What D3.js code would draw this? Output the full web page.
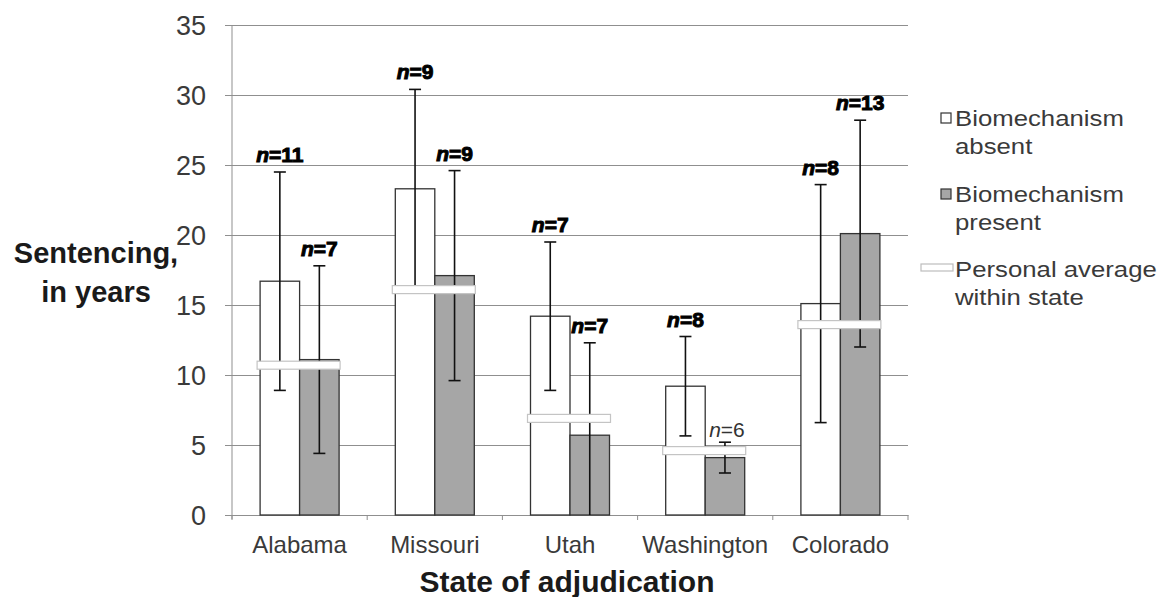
<!DOCTYPE html>
<html>
<head>
<meta charset="utf-8">
<script src="https://cdn.jsdelivr.net/npm/d3@7"></script>
<style>
  body { margin: 0; background: #fff; }
  svg { display: block; font-family: "Liberation Sans", Arial, sans-serif; }
</style>
</head>
<body>
<svg id="chart" width="1168" height="597"></svg>
<script>
// values
const states = ["Alabama", "Missouri", "Utah", "Washington", "Colorado"];
const absentMean = [16.7, 23.3, 14.2, 9.2, 15.1];
const absentErr = [7.8, 7.1, 5.3, 3.55, 8.5];
const presentMean = [11.1, 17.1, 5.7, 4.1, 20.1];
const presentErr = [6.7, 7.5, 6.6, 1.1, 8.1];
const personalAvg = [10.7, 16.1, 6.9, 4.6, 13.6];
const absentN = [11, 9, 7, 8, 8];
const presentN = [7, 9, 7, 6, 13];
const yTicks = [0, 5, 10, 15, 20, 25, 30, 35];
const legendLabels = [["Biomechanism", "absent"], ["Biomechanism", "present"], ["Personal average", "within state"]];

const margin = {top: 25, left: 232, right: 260, bottom: 82};
const width = 1168 - margin.left - margin.right;   // 676
const height = 597 - margin.top - margin.bottom;   // 490

const svg = d3.select("#chart");
const g = svg.append("g").attr("transform", `translate(${margin.left},${margin.top})`);

const x = d3.scaleBand().domain(states).range([0, width]).padding(0);
const y = d3.scaleLinear().domain([0, 35]).range([height, 0]);
const barW = 39.5;

// gridlines + y axis
g.append("g")
  .call(d3.axisLeft(y).tickValues(yTicks).tickSize(-width).tickFormat(""))
  .call(s => s.select(".domain").remove())
  .call(s => s.selectAll("line").attr("stroke", "#8f8f8f").attr("x1", -7).attr("x2", width));

g.append("line").attr("x1", 0).attr("x2", 0).attr("y1", 0).attr("y2", height + 4)
  .attr("stroke", "#8f8f8f");

g.append("g")
  .call(d3.axisLeft(y).tickValues(yTicks).tickSize(0).tickPadding(26))
  .call(s => s.select(".domain").remove())
  .call(s => s.selectAll("text").attr("font-size", 27).attr("fill", "#3a3a3a")
    .attr("font-family", "Liberation Sans, Arial, sans-serif").attr("dy", "0.36em"));

// x axis
const xAxis = g.append("g").attr("transform", `translate(0,${height})`)
  .call(d3.axisBottom(x).tickSize(0).tickPadding(21));
xAxis.select(".domain").attr("stroke", "#8f8f8f");
xAxis.selectAll("text").attr("font-size", 24).attr("fill", "#3a3a3a")
  .attr("font-family", "Liberation Sans, Arial, sans-serif");
g.append("g").selectAll("line")
  .data(d3.range(states.length + 1))
  .join("line")
  .attr("x1", i => i * x.step()).attr("x2", i => i * x.step())
  .attr("y1", height).attr("y2", height + 5)
  .attr("stroke", "#8f8f8f");

// bars
const rows = states.map((s, i) => ({
  state: s, i,
  groups: [
    {key: "absent", mean: absentMean[i], err: absentErr[i], n: absentN[i], off: -barW},
    {key: "present", mean: presentMean[i], err: presentErr[i], n: presentN[i], off: 0}
  ]
}));

const cx = s => x(s) + x.bandwidth() / 2;

rows.forEach(r => {
  r.groups.forEach(d => {
    g.append("rect")
      .attr("x", cx(r.state) + d.off).attr("width", barW)
      .attr("y", y(d.mean)).attr("height", height - y(d.mean))
      .attr("fill", d.key === "absent" ? "#ffffff" : "#a6a6a6")
      .attr("stroke", "#333").attr("stroke-width", 1.3);
  });
});

// error bars
rows.forEach(r => {
  r.groups.forEach(d => {
    const bx = cx(r.state) + d.off + barW / 2;
    const hi = d.mean + d.err, lo = d.mean - d.err;
    g.append("line").attr("x1", bx).attr("x2", bx)
      .attr("y1", y(hi)).attr("y2", y(Math.max(lo, 0)))
      .attr("stroke", "#111").attr("stroke-width", 1.6);
    const caps = lo > 0 ? [hi, lo] : [hi];
    caps.forEach(v => g.append("line")
      .attr("x1", bx - 6).attr("x2", bx + 6).attr("y1", y(v)).attr("y2", y(v))
      .attr("stroke", "#111").attr("stroke-width", 1.6));
  });
});

// personal average within state
g.selectAll("rect.avg").data(personalAvg).join("rect")
  .attr("class", "avg")
  .attr("x", (d, i) => cx(states[i]) - barW - 3)
  .attr("width", 2 * barW + 4)
  .attr("y", d => y(d) - 4).attr("height", 8)
  .attr("fill", "#fff").attr("stroke", "#c4c4c4").attr("stroke-width", 1.2);

// n labels
rows.forEach(r => {
  r.groups.forEach(d => {
    const bx = cx(r.state) + d.off + barW / 2;
    const plain = r.state === "Washington" && d.key === "present";
    const t = g.append("text")
      .attr("x", bx + (plain ? 2 : 0)).attr("y", y(d.mean + d.err) - (plain ? 5 : 10))
      .attr("text-anchor", "middle")
      .attr("font-size", 21)
      .attr("font-weight", plain ? "normal" : "bold")
      .attr("fill", plain ? "#333" : "#000")
      .attr("stroke", plain ? "none" : "#000")
      .attr("stroke-width", plain ? 0 : 1);
    t.append("tspan").attr("font-style", "italic").text("n");
    t.append("tspan").text("=" + d.n);
  });
});

// axis titles
const yTitle = svg.append("text").attr("text-anchor", "middle")
  .attr("font-size", 29).attr("font-weight", "bold").attr("fill", "#1a1a1a");
yTitle.append("tspan").attr("x", 96).attr("y", 263).text("Sentencing,");
yTitle.append("tspan").attr("x", 96).attr("y", 302).text("in years");

svg.append("text").attr("x", 567).attr("y", 592).attr("text-anchor", "middle")
  .attr("font-size", 30).attr("font-weight", "bold").attr("fill", "#1a1a1a")
  .text("State of adjudication");

// legend
const legend = svg.append("g");
const lgY = [126, 202, 277];
legendLabels.forEach((lines, i) => {
  if (i < 2) {
    legend.append("rect").attr("x", 941).attr("y", lgY[i] - 13).attr("width", 10).attr("height", 10)
      .attr("fill", i === 0 ? "#fff" : "#a6a6a6").attr("stroke", "#333").attr("stroke-width", 1.2);
  } else {
    legend.append("rect").attr("x", 921).attr("y", lgY[i] - 13).attr("width", 32).attr("height", 7)
      .attr("fill", "#fff").attr("stroke", "#bdbdbd").attr("stroke-width", 1.2);
  }
  lines.forEach((ln, j) => legend.append("text")
    .attr("transform", `translate(955,${lgY[i] + j * 28}) scale(1.12,1)`)
    .attr("font-size", 23).attr("fill", "#3a3a3a").text(ln));
});
</script>
</body>
</html>
